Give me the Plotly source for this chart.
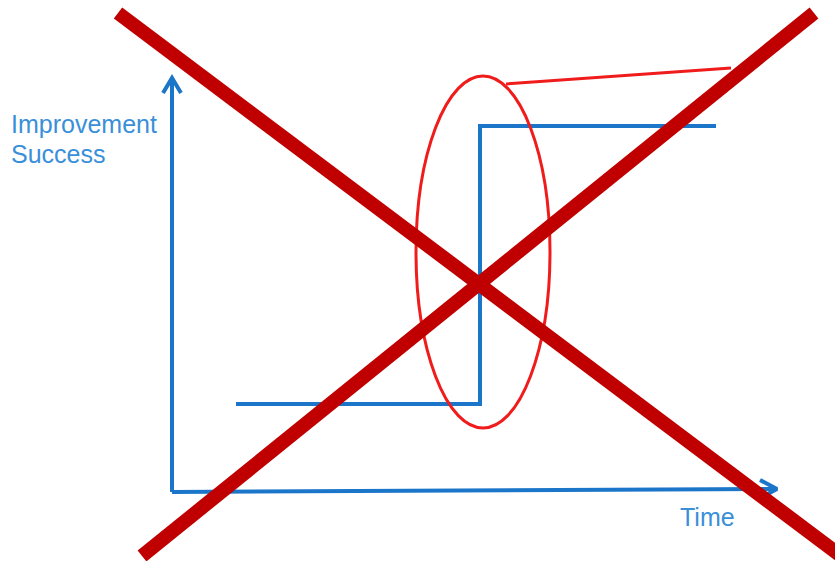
import plotly.graph_objects as go

# canvas is mapped 1:1 onto pixel coordinates (y grows downward)
W, H = 835, 561

blue = "#1b75c9"
text_blue = "#3a8fd9"
red = "#f01c1c"
dark_red = "#c00000"

# axes (with chevron arrowheads)
y_axis_x = [172, 172]
y_axis_y = [492, 80]
y_head_x = [163, 172, 181]
y_head_y = [93, 78, 93]
x_axis_x = [172, 775]
x_axis_y = [492, 489]
x_head_x = [760, 777, 760]
x_head_y = [480, 489, 498]

# the step: flat, sudden jump, flat
step_x = [236, 480, 480, 716]
step_y = [404, 404, 126, 126]

# highlight ellipse around the jump and its callout line
ellipse_x = [416, 550]
ellipse_y = [76, 428]
callout_x = [506, 731]
callout_y = [84, 68]

# big crossing-out X
cross1_x = [118, 845]
cross1_y = [13, 559]
cross2_x = [142, 814]
cross2_y = [556, 13]

fig = go.Figure()

for xs, ys in [(y_axis_x, y_axis_y), (y_head_x, y_head_y),
               (x_axis_x, x_axis_y), (x_head_x, x_head_y),
               (step_x, step_y)]:
    fig.add_trace(go.Scatter(x=xs, y=ys, mode="lines",
                             line=dict(color=blue, width=4),
                             hoverinfo="skip", showlegend=False))

fig.add_shape(type="circle", xref="x", yref="y",
              x0=ellipse_x[0], x1=ellipse_x[1], y0=ellipse_y[0], y1=ellipse_y[1],
              line=dict(color=red, width=3), layer="above")
fig.add_shape(type="line", xref="x", yref="y",
              x0=callout_x[0], x1=callout_x[1], y0=callout_y[0], y1=callout_y[1],
              line=dict(color=red, width=3), layer="above")
for xs, ys in [(cross1_x, cross1_y), (cross2_x, cross2_y)]:
    fig.add_shape(type="line", xref="x", yref="y",
                  x0=xs[0], x1=xs[1], y0=ys[0], y1=ys[1],
                  line=dict(color=dark_red, width=14), layer="above")

font = dict(family="Liberation Sans, Arial, sans-serif", size=25, color=text_blue)
fig.add_annotation(x=9, y=124, text="Improvement", showarrow=False,
                   xanchor="left", yanchor="middle", font=font)
fig.add_annotation(x=9, y=154, text="Success", showarrow=False,
                   xanchor="left", yanchor="middle", font=font)
fig.add_annotation(x=678, y=517, text="Time", showarrow=False,
                   xanchor="left", yanchor="middle", font=font)

fig.update_xaxes(range=[0, W], visible=False, fixedrange=True)
fig.update_yaxes(range=[H, 0], visible=False, fixedrange=True)
fig.update_layout(width=W, height=H, margin=dict(l=0, r=0, t=0, b=0),
                  plot_bgcolor="white", paper_bgcolor="white")

# drop the browser's default body margin so the canvas sits at (0, 0)
fig.write_html("out.html", config={"displayModeBar": False},
               post_script="document.body.style.margin='0';")
